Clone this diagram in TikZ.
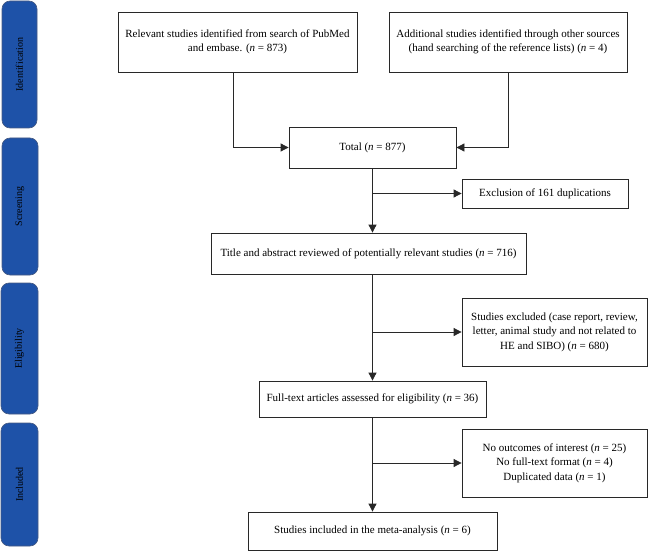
\documentclass[tikz,border=0pt]{standalone}
\usepackage{fontspec}
\setmainfont{Liberation Serif}
\usetikzlibrary{arrows.meta}
\definecolor{barblue}{RGB}{30,82,168}
\definecolor{barline}{RGB}{70,90,130}
\definecolor{lineg}{RGB}{40,40,40}
\tikzset{
  box/.style={draw=lineg, line width=0.8pt, fill=white, align=center, inner sep=2pt,
    font=\fontsize{11}{14.5}\selectfont},
  bar/.style={draw=barline, line width=0.6pt, fill=barblue, rounded corners=8pt},
  bartext/.style={rotate=90, font=\fontsize{10}{12}\selectfont, text=black},
  arr/.style={draw=lineg, line width=0.8pt, -{Triangle[length=8pt,width=8pt]}},
  ln/.style={draw=lineg, line width=0.8pt}
}
\begin{document}
\begin{tikzpicture}[x=1pt,y=-1pt]
\useasboundingbox (0,0) rectangle (649,551);
% side bars
\draw[bar] (2,1) rectangle (37,128);
\node[bartext] (sid) at (19.5,64.5) {Identification};
\draw[bar] (2,138) rectangle (38,275);
\node[bartext] (ssc) at (20,206.5) {Screening};
\draw[bar] (1,283) rectangle (38,414);
\node[bartext] (sel) at (19.5,348.5) {Eligibility};
\draw[bar] (1,423) rectangle (38,546);
\node[bartext] (sin) at (19.5,484.5) {Included};
% boxes
\node[box, minimum width=239, minimum height=60] (b1) at (237.5,42)
  {Relevant studies identified from search of PubMed\\and embase. (\textit{n} = 873)};
\node[box, minimum width=238, minimum height=60] (b2) at (508,42)
  {Additional studies identified through other sources\\(hand searching of the reference lists) (\textit{n} = 4)};
\node[box, minimum width=167, minimum height=41] (tot) at (372.5,147.5)
  {Total (\textit{n} = 877)};
\node[box, minimum width=166, minimum height=29] (exc) at (545,193.5)
  {Exclusion of 161 duplications};
\node[box, minimum width=315, minimum height=41] (tit) at (368.5,253.5)
  {Title and abstract reviewed of potentially relevant studies (\textit{n} = 716)};
\node[box, minimum width=185, minimum height=68] (sex) at (554.5,332)
  {Studies excluded (case report, review,\\letter, animal study and not related to\\HE and SIBO) (\textit{n} = 680)};
\node[box, minimum width=227, minimum height=36] (ful) at (372.5,399)
  {Full-text articles assessed for eligibility (\textit{n} = 36)};
\node[box, minimum width=185, minimum height=68] (noo) at (554.5,463)
  {No outcomes of interest (\textit{n} = 25)\\No full-text format (\textit{n} = 4)\\Duplicated data (\textit{n} = 1)};
\node[box, minimum width=249, minimum height=38] (inc) at (372.5,531)
  {Studies included in the meta-analysis (\textit{n} = 6)};
% connectors
\draw[arr] ([xshift=-4.5pt]b1.south) |- (tot.west);
\draw[arr] (b2.south) |- (tot.east);
\draw[arr] (tot.south) -- (tot.south |- tit.north);
\draw[arr] (tot.south |- exc.west) -- (exc.west);
\draw[arr] (ful.north |- tit.south) -- (ful.north);
\draw[arr] (ful.north |- sex.west) -- (sex.west);
\draw[arr] (ful.south) -- (inc.north);
\draw[arr] (ful.south |- noo.west) -- (noo.west);
\end{tikzpicture}
\end{document}
